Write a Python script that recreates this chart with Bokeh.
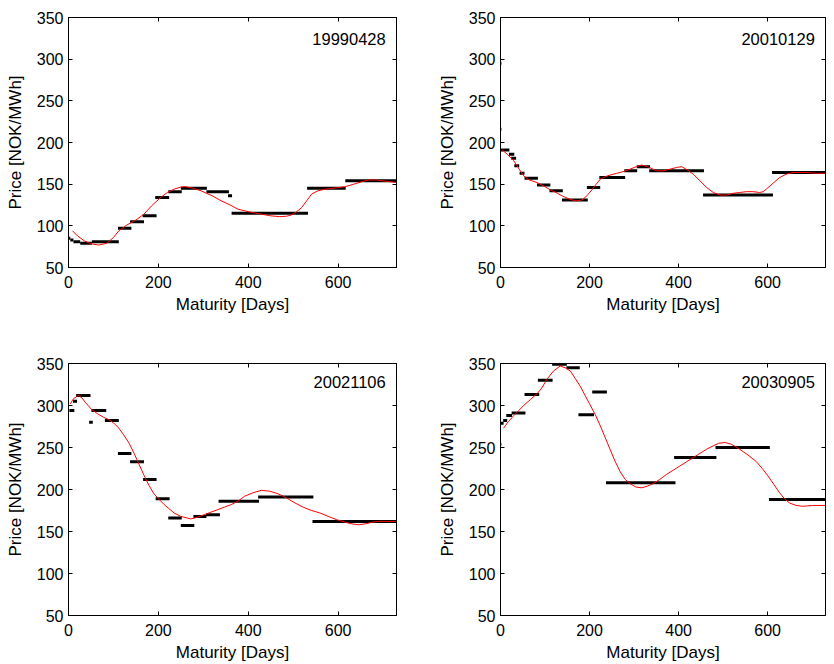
from bokeh.plotting import figure
from bokeh.models import Range1d, FixedTicker, LinearAxis, Label
from bokeh.layouts import column, row
from bokeh.embed import file_html
from bokeh.resources import INLINE

# ---------------- data ----------------
x_ticks = [0, 200, 400, 600]
y_ticks = [50, 100, 150, 200, 250, 300, 350]

# Panel 1: 19990428
p1_date = "19990428"
p1_start = [0, 4, 11, 26, 52, 110, 137, 165, 193, 222, 250, 307, 355, 363, 531, 616]
p1_end = [4, 11, 26, 52, 112, 140, 168, 196, 224, 252, 308, 357, 364, 533, 617, 730]
p1_price = [85, 83, 81, 79, 81, 97, 105, 112, 134, 141, 145, 141, 136, 115, 145, 154]
p1_curve_x = [9, 20, 35, 50, 67, 85, 100, 112, 130, 150, 168, 185, 205, 220, 235, 250, 259, 275,
              295, 320, 340, 360, 377, 400, 429, 450, 470, 485, 496, 508, 519, 530, 541, 555,
              571, 595, 616, 635, 653, 668, 685, 698, 715, 730]
p1_curve_y = [94, 88, 82, 78.5, 77, 79, 86, 94, 101, 107, 114, 124, 134, 140, 144, 146.5, 147, 145.5,
              142, 136, 130, 125, 120, 117, 114, 112, 111, 111.5, 113, 117, 122, 130, 138, 142,
              144, 145.5, 147, 150, 153, 155, 155, 154, 153, 152]

# Panel 2: 20010129
p2_date = "20010129"
p2_start = [0, 0, 1, 19, 24, 31, 43, 54, 82, 110, 138, 194, 222, 278, 306, 334, 455, 610]
p2_end = [2, 2, 20, 31, 35, 42, 54, 84, 112, 140, 196, 224, 280, 307, 336, 457, 612, 730]
p2_price = [295, 216, 191, 186, 181, 172, 163, 157, 149, 142, 131, 146, 158, 166, 171, 166, 137, 164]
p2_curve_x = [4, 15, 30, 42, 52, 65, 82, 100, 112, 125, 138, 155, 170, 183, 194, 205, 215, 224, 240,
              261, 275, 291, 305, 317, 330, 351, 365, 381, 395, 407, 420, 433, 448, 463, 478, 493,
              508, 522, 537, 552, 567, 582, 590, 597, 612, 627, 642, 657, 672, 687, 710, 730]
p2_curve_y = [191, 186, 178, 168, 160, 155, 152, 147, 143, 140, 136, 132, 130, 131, 136, 143, 150,
              156, 160, 163, 165, 168, 171, 173, 171, 166, 166, 168, 170, 171, 167, 162, 154, 146,
              140, 137, 137, 139, 140, 141, 141, 140, 141, 144, 151, 158, 162, 164, 164, 164, 163, 163]

# Panel 3: 20021106
p3_date = "20021106"
p3_start = [0, 2, 10, 17, 46, 51, 81, 110, 137, 166, 194, 222, 250, 278, 306, 334, 422, 543]
p3_end = [1, 13, 19, 49, 54, 84, 112, 140, 168, 196, 225, 252, 280, 307, 337, 424, 545, 730]
p3_price = [270, 294, 305, 312, 280, 294, 282, 243, 233, 212, 189, 166, 157, 168, 170, 186, 191, 162]
p3_curve_x = [4, 11, 22, 30, 37, 52, 65, 78, 90, 101, 112, 123, 135, 146, 157, 168, 179, 190, 202,
              213, 224, 235, 250, 272, 287, 302, 317, 332, 347, 362, 377, 392, 410, 429, 448, 466,
              485, 504, 522, 541, 560, 578, 597, 616, 631, 646, 660, 675, 690, 705, 730]
p3_curve_y = [302, 308, 312, 309, 304, 295, 290, 286, 283, 279, 273, 265, 255, 243, 230, 217, 205,
              195, 188, 182, 177, 172, 168, 165, 167, 170, 173, 176, 179, 182, 186, 192, 196, 199,
              198, 195, 190, 184, 179, 175, 172, 168, 164, 161, 159, 158, 159, 161, 162, 162, 162]

# Panel 4: 20030905
p4_date = "20030905"
p4_start = [0, 0, 6, 13, 25, 54, 84, 116, 148, 175, 206, 237, 390, 483, 603]
p4_end = [2, 7, 15, 26, 56, 87, 117, 149, 178, 210, 239, 393, 485, 605, 730]
p4_price = [254, 279, 282, 288, 291, 313, 330, 349, 345, 289, 316, 208, 238, 250, 188]
p4_curve_x = [7, 18, 30, 41, 52, 67, 82, 93, 104, 119, 134, 145, 157, 168, 179, 190, 201, 213, 224,
              235, 246, 257, 269, 280, 291, 304, 317, 330, 343, 358, 373, 388, 403, 418, 433, 448,
              463, 478, 490, 504, 518, 537, 556, 575, 588, 601, 614, 627, 638, 649, 664, 679, 701, 730]
p4_curve_y = [273, 281, 288, 294, 300, 307, 314, 321, 331, 341, 347, 345, 341, 332, 323, 312, 301,
              289, 276, 262, 248, 234, 221, 212, 207, 203, 202, 204, 207, 212, 218, 223, 228, 233,
              238, 243, 248, 252, 255, 256, 254, 248, 241, 233, 225, 216, 206, 196, 189, 184, 181,
              180, 181, 181]

FONT = "Liberation Sans"
TICK_FS = "16px"
LABEL_FS = "17px"
ANNOT_FS = "16.5px"


def style_axis(ax, labels=True):
    ax.axis_line_color = "black"
    ax.major_tick_line_color = "black"
    ax.major_tick_in = 4
    ax.major_tick_out = 0
    ax.minor_tick_line_color = None
    ax.major_label_text_font = FONT
    ax.axis_label_text_font = FONT
    ax.axis_label_text_font_style = "normal"
    ax.axis_label_text_color = "black"
    ax.axis_label_text_font_size = LABEL_FS
    if labels:
        ax.major_label_text_font_size = TICK_FS
        ax.major_label_text_color = "black"
    else:
        ax.major_label_text_font_size = "1px"
        ax.major_label_text_color = None
        ax.major_label_standoff = 0


def panel(start, end, price, cx, cy, date, width, height, bl, br, bt, bb, label_y):
    p = figure(width=width, height=height, x_range=Range1d(0, 730), y_range=Range1d(50, 350),
               output_backend="svg", toolbar_location=None,
               min_border_left=bl, min_border_right=br, min_border_top=bt, min_border_bottom=bb)
    p.background_fill_color = "white"
    p.border_fill_color = "white"
    p.outline_line_color = "black"
    p.outline_line_width = 1
    p.grid.visible = False
    p.xaxis.ticker = FixedTicker(ticks=x_ticks)
    p.yaxis.ticker = FixedTicker(ticks=y_ticks)
    p.xaxis.axis_label = "Maturity [Days]"
    p.yaxis.axis_label = "Price [NOK/MWh]"
    for ax in p.xaxis + p.yaxis:
        style_axis(ax)
    p.xaxis.major_label_standoff = 8
    p.xaxis.axis_label_standoff = 4
    p.yaxis.major_label_standoff = 5
    p.yaxis.axis_label_standoff = 9

    top = LinearAxis(ticker=FixedTicker(ticks=x_ticks))
    right = LinearAxis(ticker=FixedTicker(ticks=y_ticks))
    style_axis(top, labels=False)
    style_axis(right, labels=False)
    p.add_layout(top, "above")
    p.add_layout(right, "right")

    p.segment(x0=start, y0=price, x1=end, y1=price, line_color="black", line_width=3)
    p.line(cx, cy, line_color="red", line_width=1)
    p.add_layout(Label(x=706, y=label_y, text=date, text_align="right",
                       text_baseline="alphabetic", text_font=FONT, text_font_size=ANNOT_FS,
                       text_color="black"))
    return p


f1 = panel(p1_start, p1_end, p1_price, p1_curve_x, p1_curve_y, p1_date, 418, 328, 68, 22, 17, 61, 324)
f2 = panel(p2_start, p2_end, p2_price, p2_curve_x, p2_curve_y, p2_date, 408, 328, 82, 1, 17, 61, 324)
f3 = panel(p3_start, p3_end, p3_price, p3_curve_x, p3_curve_y, p3_date, 418, 336, 68, 22, 35, 49, 328)
f4 = panel(p4_start, p4_end, p4_price, p4_curve_x, p4_curve_y, p4_date, 408, 336, 82, 1, 35, 49, 328)

layout = column(row(f1, f2), row(f3, f4))

open("out.html", "w").write(file_html(layout, INLINE))
